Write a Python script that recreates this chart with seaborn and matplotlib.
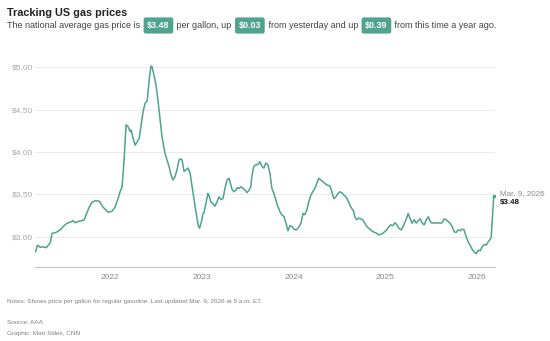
import matplotlib
matplotlib.use("Agg")
import matplotlib.pyplot as plt
import matplotlib.dates as mdates
import seaborn as sns
import pandas as pd

# ---------------- data ----------------
dates = [
    "2021-03-09", "2021-03-17", "2021-03-28", "2021-04-09", "2021-04-21", "2021-05-07", "2021-05-14",
    "2021-05-30", "2021-06-15", "2021-07-01", "2021-07-13", "2021-07-25", "2021-08-06", "2021-08-14",
    "2021-08-26", "2021-09-11", "2021-09-19", "2021-09-27", "2021-10-09", "2021-10-21", "2021-11-02",
    "2021-11-18", "2021-12-03", "2021-12-23", "2022-01-08", "2022-01-20", "2022-02-01", "2022-02-09",
    "2022-02-17", "2022-02-25", "2022-03-05", "2022-03-13", "2022-03-21", "2022-03-25", "2022-04-02",
    "2022-04-10", "2022-04-18", "2022-04-26", "2022-05-04", "2022-05-12", "2022-05-20", "2022-05-28",
    "2022-06-05", "2022-06-12", "2022-06-16", "2022-06-24", "2022-07-02", "2022-07-10", "2022-07-18",
    "2022-07-26", "2022-08-07", "2022-08-15", "2022-08-23", "2022-08-31", "2022-09-08", "2022-09-16",
    "2022-09-24", "2022-10-02", "2022-10-08", "2022-10-14", "2022-10-22", "2022-10-30", "2022-11-07",
    "2022-11-15", "2022-11-23", "2022-12-05", "2022-12-17", "2022-12-23", "2023-01-01", "2023-01-05",
    "2023-01-09", "2023-01-17", "2023-01-25", "2023-01-29", "2023-02-06", "2023-02-14", "2023-02-22",
    "2023-03-02", "2023-03-10", "2023-03-18", "2023-03-26", "2023-04-03", "2023-04-11", "2023-04-19",
    "2023-04-23", "2023-05-01", "2023-05-09", "2023-05-17", "2023-05-21", "2023-05-29", "2023-06-06",
    "2023-06-14", "2023-06-22", "2023-06-30", "2023-07-08", "2023-07-15", "2023-07-19", "2023-07-27",
    "2023-08-04", "2023-08-12", "2023-08-20", "2023-08-28", "2023-09-05", "2023-09-13", "2023-09-21",
    "2023-09-29", "2023-10-07", "2023-10-15", "2023-10-23", "2023-10-31", "2023-11-08", "2023-11-16",
    "2023-11-24", "2023-12-02", "2023-12-10", "2023-12-18", "2023-12-26", "2024-01-03", "2024-01-11",
    "2024-01-19", "2024-01-27", "2024-01-31", "2024-02-08", "2024-02-15", "2024-02-23", "2024-03-02",
    "2024-03-10", "2024-03-18", "2024-03-26", "2024-04-03", "2024-04-11", "2024-04-19", "2024-04-27",
    "2024-05-05", "2024-05-13", "2024-05-25", "2024-06-02", "2024-06-10", "2024-06-18", "2024-06-26",
    "2024-07-04", "2024-07-12", "2024-07-20", "2024-07-28", "2024-08-05", "2024-08-13", "2024-08-21",
    "2024-08-28", "2024-09-01", "2024-09-09", "2024-09-17", "2024-09-25", "2024-10-03", "2024-10-11",
    "2024-10-19", "2024-10-27", "2024-11-04", "2024-11-12", "2024-11-20", "2024-11-28", "2024-12-06",
    "2024-12-14", "2024-12-22", "2024-12-30", "2025-01-07", "2025-01-15", "2025-01-23", "2025-01-31",
    "2025-02-08", "2025-02-16", "2025-02-24", "2025-03-05", "2025-03-13", "2025-03-21", "2025-03-27",
    "2025-04-02", "2025-04-10", "2025-04-18", "2025-04-26", "2025-05-04", "2025-05-12", "2025-05-20",
    "2025-05-28", "2025-06-05", "2025-06-13", "2025-06-21", "2025-06-29", "2025-07-06", "2025-07-14",
    "2025-07-22", "2025-07-30", "2025-08-07", "2025-08-15", "2025-08-23", "2025-08-31", "2025-09-08",
    "2025-09-16", "2025-09-24", "2025-10-02", "2025-10-10", "2025-10-18", "2025-10-26", "2025-11-03",
    "2025-11-11", "2025-11-19", "2025-11-27", "2025-12-05", "2025-12-13", "2025-12-21", "2025-12-29",
    "2026-01-06", "2026-01-14", "2026-01-22", "2026-01-30", "2026-02-07", "2026-02-15", "2026-02-23",
    "2026-02-27", "2026-03-03", "2026-03-09",
]
prices = [
    2.82, 2.90, 2.875, 2.88, 2.87, 2.93, 3.04,
    3.05, 3.08, 3.13, 3.16, 3.17, 3.19, 3.165,
    3.18, 3.19, 3.20, 3.26, 3.35, 3.41, 3.425,
    3.42, 3.35, 3.29, 3.30, 3.35, 3.45, 3.53,
    3.59, 3.905, 4.32, 4.30, 4.24, 4.26, 4.16,
    4.08, 4.12, 4.16, 4.32, 4.48, 4.58, 4.60,
    4.85, 5.015, 5.01, 4.91, 4.79, 4.61, 4.40,
    4.18, 3.985, 3.905, 3.83, 3.73, 3.67, 3.71,
    3.79, 3.905, 3.92, 3.905, 3.77, 3.79, 3.81,
    3.75, 3.59, 3.355, 3.14, 3.10, 3.20, 3.275,
    3.28, 3.39, 3.51, 3.49, 3.41, 3.39, 3.36,
    3.41, 3.47, 3.44, 3.45, 3.57, 3.67, 3.69,
    3.65, 3.56, 3.53, 3.55, 3.58, 3.57, 3.59,
    3.57, 3.55, 3.52, 3.55, 3.59, 3.71, 3.83,
    3.85, 3.85, 3.885, 3.83, 3.81, 3.87, 3.85,
    3.75, 3.57, 3.51, 3.43, 3.355, 3.295, 3.255,
    3.24, 3.16, 3.07, 3.13, 3.12, 3.09, 3.08,
    3.10, 3.14, 3.16, 3.275, 3.26, 3.315, 3.41,
    3.49, 3.53, 3.57, 3.63, 3.69, 3.67, 3.65,
    3.63, 3.61, 3.60, 3.53, 3.45, 3.47, 3.51,
    3.53, 3.52, 3.49, 3.47, 3.43, 3.37, 3.33,
    3.30, 3.235, 3.20, 3.22, 3.21, 3.20, 3.16,
    3.12, 3.10, 3.08, 3.06, 3.05, 3.04, 3.02,
    3.03, 3.04, 3.06, 3.08, 3.12, 3.14, 3.13,
    3.165, 3.14, 3.10, 3.08, 3.12, 3.18, 3.22,
    3.275, 3.21, 3.16, 3.20, 3.16, 3.19, 3.21,
    3.16, 3.14, 3.20, 3.235, 3.18, 3.16, 3.165,
    3.16, 3.165, 3.16, 3.165, 3.21, 3.20, 3.18,
    3.16, 3.12, 3.06, 3.05, 3.08, 3.07, 3.09,
    3.08, 3.00, 2.94, 2.90, 2.85, 2.82, 2.80,
    2.84, 2.835, 2.88, 2.91, 2.90, 2.94, 2.97,
    3.00, 3.20, 3.48,
]

year_ticks = ["2022-01-01", "2023-01-01", "2024-01-01", "2025-01-01", "2026-01-01"]
year_labels = ["2022", "2023", "2024", "2025", "2026"]
price_ticks = [3.00, 3.50, 4.00, 4.50, 5.00]
price_labels = ["$3.00", "$3.50", "$4.00", "$4.50", "$5.00"]

title = "Tracking US gas prices"
subtitle_parts = [
    ("The national average gas price is ", False),
    ("$3.48", True),
    (" per gallon, up ", False),
    ("$0.03", True),
    (" from yesterday and up ", False),
    ("$0.39", True),
    (" from this time a year ago.", False),
]
end_date_label = "Mar. 9, 2026"
end_price_label = "$3.48"
notes = "Notes: Shows price per gallon for regular gasoline. Last updated Mar. 9, 2026 at 5 a.m. ET."
source = "Source: AAA"
credit = "Graphic: Matt Stiles, CNN"

# ---------------- style ----------------
LINE = "#4ea38d"
BADGE = "#4fa38f"
W, H = 550, 341

sns.set_theme(style="white")
plt.rcParams["font.family"] = ["Liberation Sans", "DejaVu Sans"]

fig = plt.figure(figsize=(W / 100, H / 100), dpi=100)
fig.patch.set_facecolor("white")

ax_left, ax_right = 35, 495
ax_top, ax_bottom = 58.8, 266.7
ax = fig.add_axes([ax_left / W, 1 - ax_bottom / H, (ax_right - ax_left) / W, (ax_bottom - ax_top) / H])

df = pd.DataFrame({"date": pd.to_datetime(dates), "price": prices})
sns.lineplot(data=df, x="date", y="price", ax=ax, color=LINE, linewidth=1.1)
ax.scatter([df["date"].iloc[-1]], [df["price"].iloc[-1]], s=7, color=LINE, zorder=4, linewidths=0)

ax.set_xlim(pd.Timestamp("2021-03-07"), pd.Timestamp("2026-03-14"))
ax.set_ylim(2.646, 5.10)

ax.set_yticks(price_ticks)
ax.set_yticklabels(price_labels)
ax.set_xticks(pd.to_datetime(year_ticks))
ax.set_xticklabels(year_labels)
ax.set_xlabel("")
ax.set_ylabel("")

ax.grid(axis="y", color="#ebebeb", linewidth=0.7)
ax.grid(axis="x", visible=False)
for s in ["top", "right", "left"]:
    ax.spines[s].set_visible(False)
ax.spines["bottom"].set_color("#c4c4c4")
ax.spines["bottom"].set_linewidth(0.8)
ax.tick_params(axis="y", length=0, pad=1.5, labelsize=6.0, labelcolor="#a8a8a8")
ax.tick_params(axis="x", length=3, width=0.7, color="#c4c4c4", direction="out", pad=2,
               labelsize=6.0, labelcolor="#8a8a8a")

# end annotation
last_d, last_p = df["date"].iloc[-1], df["price"].iloc[-1]
ax.annotate(end_date_label, xy=(last_d, last_p), xytext=(4.2, 2.0), textcoords="offset points",
            fontsize=5.8, color="#8a8a8a", ha="left", va="center", annotation_clip=False)
ax.annotate(end_price_label, xy=(last_d, last_p), xytext=(4.2, -4.6), textcoords="offset points",
            fontsize=5.8, color="#111111", fontweight="bold", ha="left", va="center", annotation_clip=False)

# title
fig.text(7 / W, 1 - 13 / H, title, fontsize=7.8, fontweight="bold", color="#222222", ha="left", va="center")

# subtitle with badges
renderer = fig.canvas.get_renderer()
FS = 6.45
x = 7.0
yc = 1 - 25.5 / H
pad_pt = 0.4 * FS
pad_px = pad_pt * 100 / 72
for txt, badge in subtitle_parts:
    if badge:
        x += 1.0
        t = fig.text((x + pad_px) / W, yc, txt, fontsize=FS, fontweight="bold", color="white",
                     ha="left", va="center",
                     bbox=dict(boxstyle="round,pad=0.4,rounding_size=0.25", fc=BADGE, ec="none"))
        w = t.get_window_extent(renderer).width
        x += w + 2 * pad_px + 1.0
    else:
        t = fig.text(x / W, yc, txt, fontsize=FS, color="#444444", ha="left", va="center")
        w = t.get_window_extent(renderer).width
        x += w

# footer
fig.text(7 / W, 1 - 302 / H, notes, fontsize=4.6, color="#808080", ha="left", va="center")
fig.text(7 / W, 1 - 322 / H, source, fontsize=4.6, color="#808080", ha="left", va="center")
fig.text(7 / W, 1 - 334 / H, credit, fontsize=4.6, color="#808080", ha="left", va="center")

fig.savefig("out.png", dpi=100, facecolor="white")
